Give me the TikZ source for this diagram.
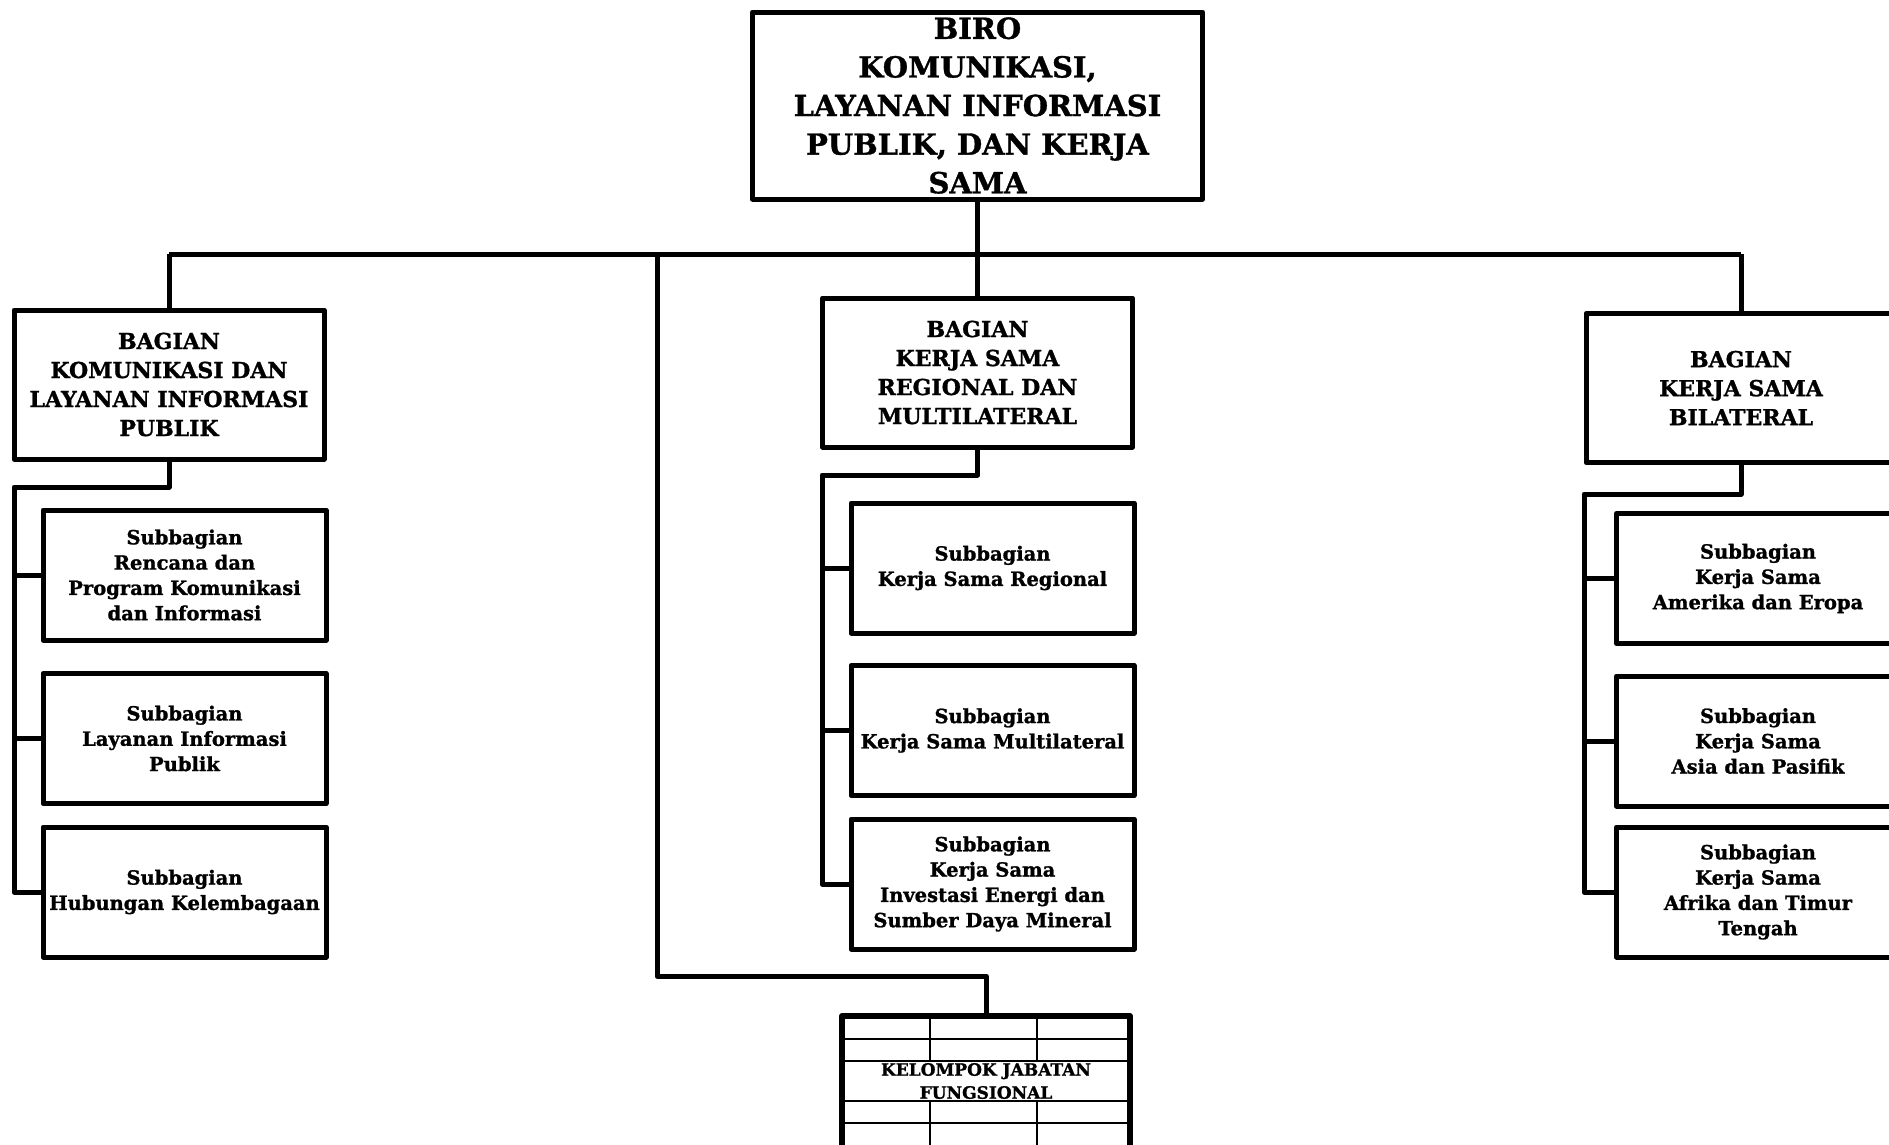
\documentclass[tikz,border=0pt]{standalone}
\usepackage{fontspec}
\setmainfont{DejaVu Serif}[BoldFeatures={FakeBold=1.2}]
\begin{document}
\begin{tikzpicture}[x=1pt,y=-1pt,line width=5pt,line join=round]
\tikzstyle{box}=[draw,rectangle,inner sep=0pt,align=center]
\tikzstyle{biro}=[box,minimum width=450,minimum height=187,font=\bfseries\fontsize{29}{38.6}\selectfont]
\tikzstyle{bagian}=[box,minimum width=310,minimum height=149,font=\bfseries\fontsize{22}{29}\selectfont]
\tikzstyle{sub}=[box,minimum width=283,minimum height=130,font=\bfseries\fontsize{19.5}{25.3}\selectfont]
\tikzstyle{grid}=[line width=2.8pt]
\clip (0,0) rectangle (1889,1144);

\node[biro] at (977.5,105.5) (biro) {BIRO\\KOMUNIKASI,\\LAYANAN INFORMASI\\PUBLIK, DAN KERJA\\SAMA};

\node[bagian] at (169,384.5) (b1) {BAGIAN\\KOMUNIKASI DAN\\LAYANAN INFORMASI\\PUBLIK};
\node[bagian] at (977.5,372.5) (b2) {BAGIAN\\KERJA SAMA\\REGIONAL DAN\\MULTILATERAL};
\node[bagian] at (1741,388) (b3) {BAGIAN\\KERJA SAMA\\BILATERAL};

\node[sub] at (184.5,575) (s11) {Subbagian\\Rencana dan\\Program Komunikasi\\dan Informasi};
\node[sub] at (184.5,738.5) (s12) {Subbagian\\Layanan Informasi\\Publik};
\node[sub] at (184.5,892) (s13) {Subbagian\\Hubungan Kelembagaan};

\node[sub] at (992.5,568) (s21) {Subbagian\\Kerja Sama Regional};
\node[sub] at (992.5,730.5) (s22) {Subbagian\\Kerja Sama Multilateral};
\node[sub] at (992.5,884) (s23) {Subbagian\\Kerja Sama\\Investasi Energi dan\\Sumber Daya Mineral};

\node[sub] at (1758,578.5) (s31) {Subbagian\\Kerja Sama\\Amerika dan Eropa};
\node[sub] at (1758,741) (s32) {Subbagian\\Kerja Sama\\Asia dan Pasifik};
\node[sub] at (1758,892) (s33) {Subbagian\\Kerja Sama\\Afrika dan Timur\\Tengah};

\node[draw,rectangle,line width=6pt,minimum width=288,minimum height=150] at (986,1091) (jf) {};
\foreach \y in {1039,1061,1101,1123}
  \draw[grid] (jf.west |- 0,\y) -- (jf.east |- 0,\y);
\foreach \x in {930,1037} {
  \draw[grid] (jf.north -| \x,0) -- (\x,1061);
  \draw[grid] (\x,1101) -- (jf.south -| \x,0);
}
\node[align=center,font=\bfseries\fontsize{17}{23}\selectfont] at (986,1081) (jftext) {KELOMPOK JABATAN\\FUNGSIONAL};

\coordinate (busL) at (169,254);
\coordinate (busR) at (1741,254);
\coordinate (busJ) at (657,254);
\coordinate (sp1) at (14,487);
\coordinate (sp2) at (822,475);
\coordinate (sp3) at (1584,494);

\draw (biro) -- (b2);
\draw (busL) -- (busR);
\draw (busL) -- (b1.north);
\draw (busR) -- (b3.north);
\draw (busJ) -- ++(0,722) -| (jf.north);

\draw (b1.south) |- (sp1) |- (s13.west);
\draw (sp1 |- s11.west) -- (s11.west);
\draw (sp1 |- s12.west) -- (s12.west);

\draw (b2.south) |- (sp2) |- (s23.west);
\draw (sp2 |- s21.west) -- (s21.west);
\draw (sp2 |- s22.west) -- (s22.west);

\draw (b3.south) |- (sp3) |- (s33.west);
\draw (sp3 |- s31.west) -- (s31.west);
\draw (sp3 |- s32.west) -- (s32.west);
\end{tikzpicture}
\end{document}
